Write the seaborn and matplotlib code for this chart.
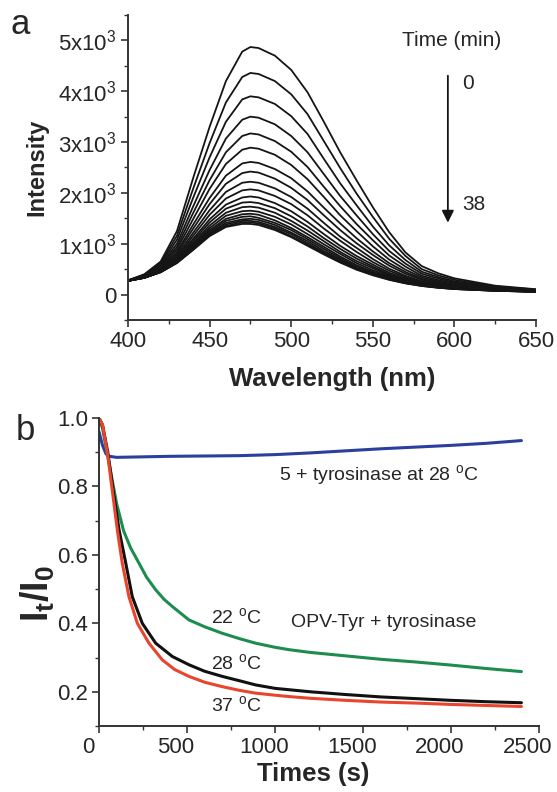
import numpy as np
import pandas as pd
import matplotlib
matplotlib.use("Agg")
import matplotlib.pyplot as plt
import matplotlib.transforms as mtransforms
from matplotlib.ticker import MultipleLocator
import seaborn as sns

# ---------------- panel a data ----------------
wavelength = [400, 410, 420, 430, 440, 450, 460, 470, 475, 480, 490, 500, 510, 520,
              530, 540, 550, 560, 570, 580, 590, 600, 625, 650]
time_min = [0, 2, 4, 6, 8, 10, 12, 14, 16, 18, 20, 22, 24, 26, 28, 30, 32, 34, 36, 38]

spec_00 = [280, 400, 650, 1250, 2300, 3300, 4200, 4780, 4870, 4850, 4700, 4420, 3980, 3400, 2800, 2250, 1720, 1230, 830, 560, 420, 320, 175, 105]
spec_02 = [280, 390, 620, 1160, 2090, 2980, 3780, 4280, 4360, 4340, 4200, 3940, 3550, 3020, 2490, 1990, 1530, 1100, 760, 500, 380, 290, 160, 100]
spec_04 = [280, 380, 590, 1080, 1910, 2700, 3400, 3840, 3900, 3880, 3750, 3510, 3160, 2670, 2190, 1760, 1340, 970, 680, 450, 345, 260, 150, 90]
spec_06 = [280, 370, 570, 1000, 1740, 2450, 3070, 3440, 3500, 3480, 3350, 3120, 2800, 2370, 1940, 1560, 1190, 860, 610, 410, 315, 240, 140, 85]
spec_08 = [275, 370, 550, 940, 1610, 2250, 2800, 3120, 3170, 3150, 3020, 2810, 2510, 2120, 1740, 1390, 1070, 770, 550, 370, 285, 220, 130, 80]
spec_10 = [270, 360, 530, 890, 1490, 2080, 2570, 2850, 2890, 2870, 2750, 2550, 2270, 1920, 1560, 1250, 950, 690, 490, 340, 260, 200, 120, 80]
spec_12 = [270, 350, 510, 840, 1380, 1900, 2340, 2580, 2610, 2590, 2470, 2290, 2030, 1710, 1400, 1110, 850, 620, 445, 310, 235, 180, 110, 70]
spec_14 = [270, 350, 500, 810, 1300, 1780, 2180, 2390, 2420, 2400, 2280, 2100, 1860, 1560, 1270, 1010, 780, 570, 410, 290, 220, 170, 105, 70]
spec_16 = [270, 350, 490, 770, 1220, 1660, 2020, 2200, 2220, 2200, 2090, 1920, 1690, 1410, 1140, 920, 700, 510, 370, 260, 200, 160, 100, 70]
spec_18 = [270, 340, 480, 740, 1160, 1570, 1890, 2050, 2070, 2050, 1940, 1780, 1560, 1300, 1060, 840, 640, 470, 345, 250, 190, 150, 95, 65]
spec_20 = [270, 340, 470, 720, 1100, 1480, 1770, 1910, 1930, 1910, 1800, 1640, 1430, 1190, 960, 760, 590, 430, 320, 230, 180, 140, 90, 60]
spec_22 = [270, 340, 470, 700, 1060, 1420, 1690, 1810, 1820, 1800, 1700, 1540, 1340, 1110, 900, 710, 550, 400, 300, 220, 175, 140, 90, 60]
spec_24 = [270, 340, 460, 680, 1020, 1360, 1610, 1720, 1730, 1710, 1610, 1450, 1260, 1050, 840, 660, 520, 380, 285, 210, 165, 130, 85, 60]
spec_26 = [270, 335, 460, 670, 990, 1310, 1550, 1640, 1650, 1630, 1530, 1380, 1190, 990, 800, 620, 480, 360, 270, 200, 160, 130, 80, 60]
spec_28 = [270, 330, 450, 660, 960, 1270, 1490, 1580, 1590, 1570, 1460, 1310, 1130, 940, 750, 580, 450, 340, 255, 190, 150, 120, 80, 60]
spec_30 = [270, 330, 450, 650, 940, 1240, 1450, 1530, 1540, 1510, 1410, 1270, 1090, 900, 720, 550, 430, 320, 245, 190, 150, 120, 80, 60]
spec_32 = [270, 330, 450, 640, 920, 1210, 1410, 1480, 1490, 1470, 1370, 1220, 1050, 860, 690, 530, 410, 310, 235, 180, 145, 120, 80, 55]
spec_34 = [270, 330, 440, 630, 900, 1190, 1380, 1450, 1450, 1430, 1330, 1190, 1010, 830, 670, 520, 400, 300, 230, 180, 140, 110, 75, 55]
spec_36 = [270, 330, 440, 625, 890, 1170, 1350, 1420, 1420, 1400, 1300, 1150, 980, 810, 650, 500, 390, 300, 225, 170, 135, 110, 75, 55]
spec_38 = [270, 330, 440, 620, 880, 1150, 1330, 1390, 1390, 1370, 1270, 1130, 960, 790, 630, 490, 380, 290, 220, 170, 135, 110, 75, 55]

spectra = [spec_00, spec_02, spec_04, spec_06, spec_08, spec_10, spec_12, spec_14,
           spec_16, spec_18, spec_20, spec_22, spec_24, spec_26, spec_28, spec_30,
           spec_32, spec_34, spec_36, spec_38]

ytick_a_vals = [0, 1000, 2000, 3000, 4000, 5000]
ytick_a_labels = ["0", r"1x10$^3$", r"2x10$^3$", r"3x10$^3$", r"4x10$^3$", r"5x10$^3$"]

# ---------------- panel b data ----------------
t_blue = [0, 20, 40, 60, 100, 200, 400, 600, 800, 1000, 1200, 1400, 1600, 1800, 2000, 2200, 2400]
v_blue = [0.96, 0.92, 0.895, 0.888, 0.885, 0.886, 0.888, 0.889, 0.890, 0.893, 0.898, 0.904, 0.910, 0.915, 0.920, 0.926, 0.934]

t_green = [0, 20, 60, 100, 140, 180, 227, 270, 322, 370, 417, 511, 600, 700, 800, 890, 1000, 1080, 1200, 1400, 1600, 1800, 2000, 2200, 2400]
v_green = [1.0, 0.97, 0.86, 0.75, 0.67, 0.62, 0.576, 0.535, 0.498, 0.47, 0.449, 0.41, 0.39, 0.371, 0.355, 0.342, 0.330, 0.323, 0.315, 0.305, 0.295, 0.287, 0.278, 0.268, 0.259]

t_black = [0, 20, 50, 80, 114, 152, 189, 246, 322, 417, 511, 600, 700, 800, 890, 1000, 1080, 1200, 1400, 1600, 1800, 2000, 2200, 2400]
v_black = [1.0, 0.98, 0.90, 0.79, 0.673, 0.576, 0.478, 0.40, 0.342, 0.303, 0.279, 0.26, 0.245, 0.232, 0.22, 0.21, 0.206, 0.20, 0.192, 0.185, 0.180, 0.175, 0.171, 0.168]

t_red = [0, 20, 50, 80, 104, 132, 170, 218, 284, 360, 430, 511, 600, 700, 800, 890, 1000, 1080, 1200, 1400, 1600, 1800, 2000, 2200, 2400]
v_red = [1.0, 0.98, 0.89, 0.77, 0.673, 0.576, 0.478, 0.40, 0.342, 0.293, 0.265, 0.245, 0.228, 0.215, 0.204, 0.196, 0.19, 0.186, 0.181, 0.175, 0.170, 0.167, 0.163, 0.160, 0.157]

# ---------------- style ----------------
sns.set_theme(style="ticks")
plt.rcParams["font.family"] = ["Liberation Sans", "DejaVu Sans"]
plt.rcParams["mathtext.fontset"] = "custom"
plt.rcParams["mathtext.rm"] = "Liberation Sans"
plt.rcParams["mathtext.it"] = "Liberation Sans:italic"
plt.rcParams["mathtext.bf"] = "Liberation Sans:bold"

fig = plt.figure(figsize=(5.57, 7.92), dpi=100)
W, H = 557, 792
ax_a = fig.add_axes([128 / W, 1 - 320 / H, 408 / W, 305 / H])
ax_b = fig.add_axes([99 / W, 1 - 726 / H, 440 / W, 308 / H])

# panel a
rows = []
for tm, sp in zip(time_min, spectra):
    for wl, iv in zip(wavelength, sp):
        rows.append((tm, wl, iv))
df_a = pd.DataFrame(rows, columns=["time", "wavelength", "intensity"])
sns.lineplot(data=df_a, x="wavelength", y="intensity", hue="time",
             palette=["#151515"] * len(time_min), legend=False, estimator=None,
             linewidth=1.3, ax=ax_a)
ax_a.set_xlim(400, 650)
ax_a.set_ylim(-500, 5500)
ax_a.set_yticks(ytick_a_vals)
ax_a.set_yticklabels(ytick_a_labels)
ax_a.set_xticks([400, 450, 500, 550, 600, 650])
ax_a.xaxis.set_minor_locator(MultipleLocator(25))
ax_a.yaxis.set_minor_locator(MultipleLocator(500))
ax_a.set_xlabel("Wavelength (nm)", fontsize=18.5, fontweight="bold", labelpad=11)
ax_a.set_ylabel("Intensity", fontsize=17, fontweight="bold", labelpad=7)
ax_a.text(598, 5000, "Time (min)", fontsize=15, ha="center", va="center")
ax_a.annotate("", xy=(596, 1360), xytext=(596, 4360),
              arrowprops=dict(arrowstyle="-|>", color="#151515", lw=1.3,
                              mutation_scale=18))
ax_a.text(605, 4160, "0", fontsize=15, ha="left", va="center")
ax_a.text(605, 1770, "38", fontsize=15, ha="left", va="center")

# panel b
df_b = pd.concat([
    pd.DataFrame({"t": t_blue, "v": v_blue, "s": "blue"}),
    pd.DataFrame({"t": t_green, "v": v_green, "s": "green"}),
    pd.DataFrame({"t": t_black, "v": v_black, "s": "black"}),
    pd.DataFrame({"t": t_red, "v": v_red, "s": "red"}),
])
pal = {"blue": "#2b3f9c", "green": "#1e8c4e", "black": "#111111", "red": "#e8452c"}
sns.lineplot(data=df_b, x="t", y="v", hue="s", palette=pal, legend=False,
             estimator=None, sort=False, linewidth=2.2, ax=ax_b)
ax_b.set_xlim(0, 2500)
ax_b.set_ylim(0.1, 1.0)
ax_b.set_xticks([0, 500, 1000, 1500, 2000, 2500])
ax_b.set_yticks([0.2, 0.4, 0.6, 0.8, 1.0])
ax_b.set_yticklabels(["0.2", "0.4", "0.6", "0.8", "1.0"])
ax_b.xaxis.set_minor_locator(MultipleLocator(250))
ax_b.yaxis.set_minor_locator(MultipleLocator(0.1))
ax_b.set_xlabel("Times (s)", fontsize=18.5, fontweight="bold", labelpad=3)
ax_b.xaxis.label.set_x(0.487)
ax_b.set_ylabel(r"$\mathbf{I_t/I_0}$", fontsize=27, labelpad=0)
ax_b.yaxis.label.set_y(0.43)
ax_b.text(1023, 0.834, r"5 + tyrosinase at 28 $^{\rm o}$C", fontsize=14, ha="left", va="center")
ax_b.text(1091, 0.401, "OPV-Tyr + tyrosinase", fontsize=14, ha="left", va="center")
ax_b.text(636, 0.419, r"22 $^{\rm o}$C", fontsize=14, ha="left", va="center")
ax_b.text(636, 0.285, r"28 $^{\rm o}$C", fontsize=14, ha="left", va="center")
ax_b.text(636, 0.162, r"37 $^{\rm o}$C", fontsize=14, ha="left", va="center")

for ax in (ax_a, ax_b):
    sns.despine(ax=ax)
    for s in ("left", "bottom"):
        ax.spines[s].set_linewidth(1.4)
        ax.spines[s].set_color("#333333")
    ax.tick_params(which="major", direction="out", length=5, width=1.2,
                   color="#333333", labelsize=16, pad=3)
    ax.tick_params(which="minor", direction="out", length=3, width=1.0, color="#333333")

# x tick labels of panel b sit slightly left of their ticks, as in the source
shift = mtransforms.ScaledTranslation(-11 / 100, 0, fig.dpi_scale_trans)
for lab in ax_b.get_xticklabels():
    lab.set_transform(lab.get_transform() + shift)

fig.text(10 / W, 1 - 24 / H, "a", fontsize=25, ha="left", va="center")
fig.text(16 / W, 1 - 431 / H, "b", fontsize=25, ha="left", va="center")

fig.savefig("out.png", dpi=100)
